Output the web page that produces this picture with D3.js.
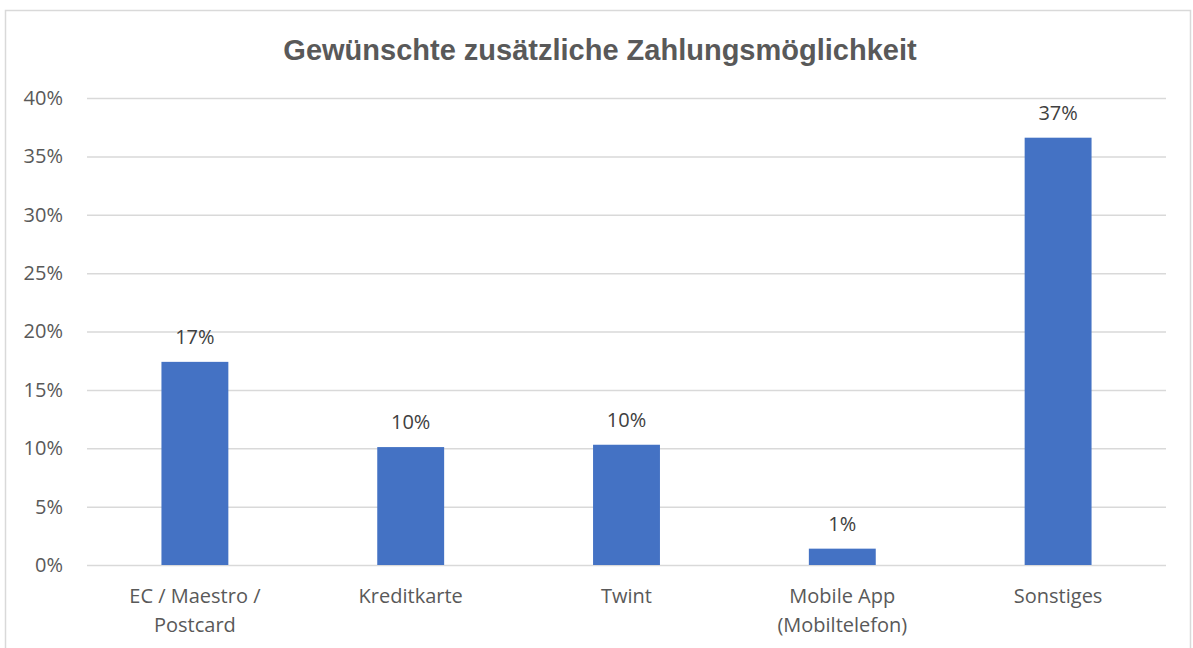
<!DOCTYPE html>
<html>
<head>
<meta charset="utf-8">
<script src="https://cdn.jsdelivr.net/npm/d3@7"></script>
<style>
  body { margin: 0; background: #fff; }
  svg { display: block; }
</style>
</head>
<body>
<div id="chart"></div>
<script>
// data
const categories = ['EC / Maestro / Postcard', 'Kreditkarte', 'Twint', 'Mobile App (Mobiltelefon)', 'Sonstiges'];
const categoryLines = [['EC / Maestro /', 'Postcard'], ['Kreditkarte'], ['Twint'], ['Mobile App', '(Mobiltelefon)'], ['Sonstiges']];
const values = [0.174, 0.101, 0.103, 0.014, 0.366];
const valueLabels = ['17%', '10%', '10%', '1%', '37%'];
const yTicks = [0, 0.05, 0.10, 0.15, 0.20, 0.25, 0.30, 0.35, 0.40];
const title = 'Gewünschte zusätzliche Zahlungsmöglichkeit';

const W = 1193, H = 648;
const margin = {top: 98, right: 27, bottom: 83, left: 87};
const width = W - margin.left - margin.right;
const height = H - margin.top - margin.bottom;
const font = '"Open Sans", "Noto Sans", sans-serif';

const svg = d3.select('#chart').append('svg')
  .attr('width', W)
  .attr('height', H);

// outer frame
svg.append('rect')
  .attr('x', 5.5).attr('y', 10.5)
  .attr('width', W - 8).attr('height', H)
  .attr('fill', 'none')
  .attr('stroke', '#d9d9d9')
  .attr('stroke-width', 1.5);

svg.append('text')
  .attr('x', 600).attr('y', 60)
  .attr('text-anchor', 'middle')
  .attr('font-family', 'Liberation Sans, Arial, sans-serif')
  .attr('font-weight', 'bold')
  .attr('font-size', 29)
  .attr('fill', '#595959')
  .text(title);

const g = svg.append('g')
  .attr('transform', 'translate(' + margin.left + ',' + margin.top + ')');

const x = d3.scaleBand()
  .domain(categories)
  .range([0, width])
  .paddingInner(0.69)
  .paddingOuter(0.345);

const y = d3.scaleLinear()
  .domain([0, 0.4])
  .range([height, 0]);

// gridlines + y labels
const yAxis = d3.axisLeft(y)
  .tickValues(yTicks)
  .tickSize(-width)
  .tickPadding(24)
  .tickFormat(d3.format('.0%'));

g.append('g')
  .attr('class', 'y axis')
  .call(yAxis)
  .call(s => s.select('.domain').remove())
  .call(s => s.selectAll('line').attr('stroke', '#d9d9d9').attr('stroke-width', 1.5))
  .call(s => s.selectAll('text')
    .attr('fill', '#595959')
    .attr('font-family', font)
    .attr('font-size', 20));

// bars
g.selectAll('.bar')
  .data(values)
  .enter().append('rect')
  .attr('class', 'bar')
  .attr('x', (d, i) => x(categories[i]))
  .attr('y', d => y(d))
  .attr('width', x.bandwidth())
  .attr('height', d => height - y(d))
  .attr('fill', '#4472c4');

// value labels
g.selectAll('.val')
  .data(values)
  .enter().append('text')
  .attr('class', 'val')
  .attr('x', (d, i) => x(categories[i]) + x.bandwidth() / 2)
  .attr('y', d => y(d) - 18)
  .attr('text-anchor', 'middle')
  .attr('font-family', font)
  .attr('font-size', 20)
  .attr('fill', '#404040')
  .text((d, i) => valueLabels[i]);

// category labels
const cat = g.selectAll('.cat')
  .data(categories)
  .enter().append('text')
  .attr('class', 'cat')
  .attr('x', d => x(d) + x.bandwidth() / 2)
  .attr('y', height + 38)
  .attr('text-anchor', 'middle')
  .attr('font-family', font)
  .attr('font-size', 20)
  .attr('fill', '#595959');

cat.selectAll('tspan')
  .data((d, i) => categoryLines[i])
  .enter().append('tspan')
  .attr('x', function() { return d3.select(this.parentNode).attr('x'); })
  .attr('dy', (d, j) => j === 0 ? 0 : 28.5)
  .text(d => d);
</script>
</body>
</html>
